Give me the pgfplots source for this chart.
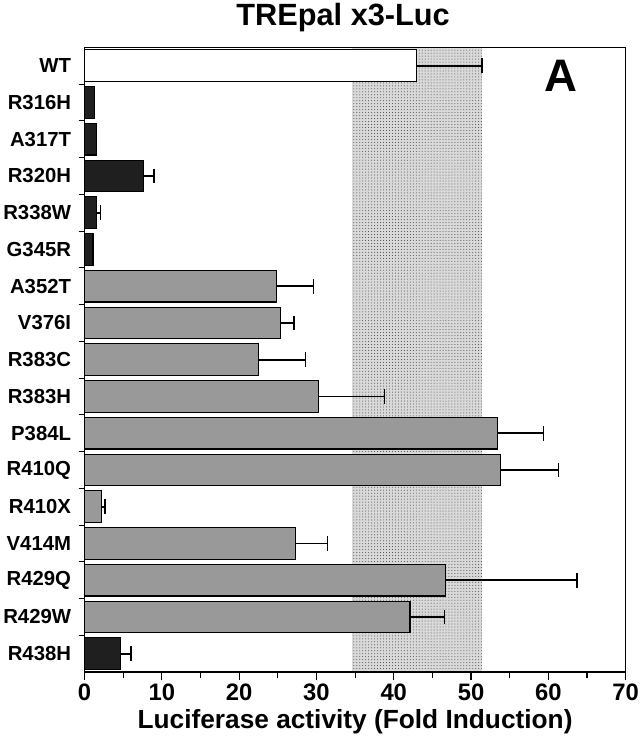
\documentclass[border=0pt]{standalone}
\usepackage{fontspec}
\setmainfont{Liberation Sans}
\usepackage{pgfplots}
\pgfplotsset{compat=1.18}
\usetikzlibrary{patterns}
\pgfplotsset{mybar/.style={xbar, bar width=0.86, bar shift=0pt, draw=black, line width=1.1pt}}
\pgfplotsset{myerr/.style={error bars/.cd, x dir=plus, x explicit,
  error mark=|,
  error bar style={line width=1.6pt, black, solid},
  error mark options={line width=1.4pt, mark size=7.5bp, black}}}
\begin{document}
\begin{tikzpicture}
\begin{axis}[
  scale only axis, width=544bp, height=628bp,
  xmin=0, xmax=70, ymin=-0.5, ymax=16.5, y dir=reverse,
  xtick={0,10,...,70}, minor xtick={5,15,...,65},
  ytick={0,...,16},
  yticklabels={WT,R316H,A317T,R320H,R338W,G345R,A352T,V376I,R383C,R383H,P384L,R410Q,R410X,V414M,R429Q,R429W,R438H},
  minor ytick={0.5,1.5,...,15.5},
  major y tick style={draw=none},
  tick align=outside, tick pos=left,
  major tick length=8bp, minor tick length=6bp,
  every tick/.style={black, line width=1.1pt},
  axis line style={line width=1.3pt},
  /pgf/number format/assume math mode=true,
  xticklabel style={font=\bfseries\fontsize{24}{24}\selectfont},
  yticklabel style={font=\bfseries\fontsize{20.5}{20.5}\selectfont, xshift=-2bp},
  xlabel={Luciferase activity (Fold Induction)},
  xlabel style={font=\bfseries\fontsize{26.5}{26.5}\selectfont, yshift=-2bp},
  title={TREpal x3-Luc},
  title style={font=\bfseries\fontsize{31}{31}\selectfont, xshift=-12bp, yshift=6bp},
  axis on top,
]
% WT mean +/- SD band
\addplot[draw=none, fill=gray!30, postaction={pattern=dots, pattern color=black!75}]
  coordinates {(34.6,-0.5) (51.4,-0.5) (51.4,16.5) (34.6,16.5)} -- cycle;
% WT
\addplot[mybar, fill=white, myerr] coordinates {(43.0,0) +- (8.4,0)};
% black bars without visible error
\addplot[mybar, fill=black!88] coordinates {
  (1.3,1)
  (1.5,2)
  (1.1,5)
};
% black bars with error
\addplot[mybar, fill=black!88, myerr] coordinates {
  (7.6,3) +- (1.4,0)
  (1.6,4) +- (0.5,0)
  (4.7,16) +- (1.3,0)
};
% gray bars
\addplot[mybar, fill=black!40, myerr] coordinates {
  (24.8,6) +- (4.8,0)
  (25.3,7) +- (1.8,0)
  (22.5,8) +- (6.1,0)
  (30.3,9) +- (8.5,0)
  (53.4,10) +- (6.0,0)
  (53.8,11) +- (7.5,0)
  (2.2,12) +- (0.45,0)
  (27.3,13) +- (4.1,0)
  (46.7,14) +- (17.0,0)
  (42.1,15) +- (4.5,0)
};
\node[font=\bfseries\fontsize{46}{46}\selectfont] at (axis description cs:0.88,0.955) {A};
\end{axis}
\end{tikzpicture}
\end{document}
